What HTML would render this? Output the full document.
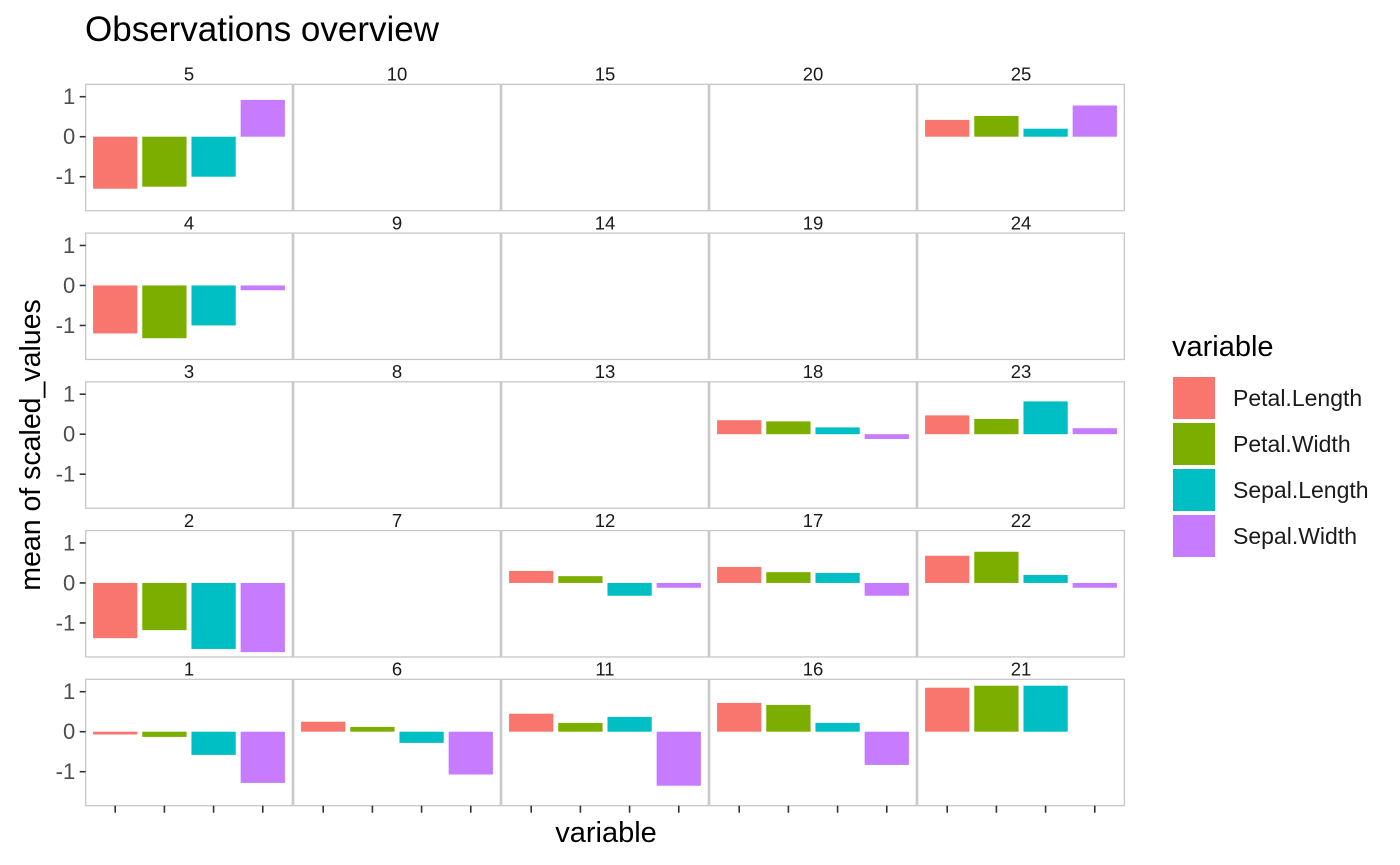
<!DOCTYPE html>
<html><head><meta charset="utf-8"><style>
body{margin:0;background:#fff;}
svg{display:block;font-family:"Liberation Sans",sans-serif;}
</style></head><body>
<svg id="chart" width="1400" height="865" xmlns="http://www.w3.org/2000/svg">
<text x="85" y="41" font-size="35" fill="#000">Observations overview</text>
<text transform="translate(40,445) rotate(-90)" text-anchor="middle" font-size="28.5" fill="#000">mean of scaled_values</text>
<text x="606" y="842" text-anchor="middle" font-size="29" fill="#000">variable</text>
<text x="1172" y="356" font-size="29" fill="#000">variable</text>
<g id="panels"></g>
<g id="legend"></g>
</svg>
<script>
const categories = ["Petal.Length","Petal.Width","Sepal.Length","Sepal.Width"];
const colors = ["#F8766D","#7CAE00","#00BFC4","#C77CFF"];
const facetLabels = [1,2,3,4,5,6,7,8,9,10,11,12,13,14,15,16,17,18,19,20,21,22,23,24,25];
const yTicks = [1,0,-1];
const yTickLabels = ["1","0","-1"];
const facetValues = {
  1:[-0.07,-0.13,-0.58,-1.28],
  2:[-1.38,-1.18,-1.65,-1.73],
  4:[-1.2,-1.32,-1.0,-0.12],
  5:[-1.3,-1.25,-1.0,0.92],
  6:[0.25,0.12,-0.28,-1.07],
  11:[0.45,0.22,0.37,-1.35],
  12:[0.3,0.17,-0.32,-0.12],
  16:[0.72,0.67,0.22,-0.83],
  17:[0.4,0.27,0.25,-0.32],
  18:[0.35,0.32,0.17,-0.12],
  21:[1.1,1.15,1.15,null],
  22:[0.68,0.78,0.2,-0.12],
  23:[0.47,0.38,0.82,0.15],
  25:[0.42,0.52,0.2,0.78]
};
const NS="http://www.w3.org/2000/svg";
const g=document.getElementById('panels');
const X0=85.7, PW=206.6, PITCH=208, Y0=84.3, PH=126.4, RP=148.75;
const yMax=1.31, yMin=-1.85;
function mk(tag,attrs){const e=document.createElementNS(NS,tag);for(const k in attrs)e.setAttribute(k,attrs[k]);return e;}
facetLabels.forEach(lab=>{
  const c=Math.floor((lab-1)/5), r=4-((lab-1)%5);
  const px=X0+c*PITCH, py=Y0+r*RP;
  const yS=v=>py+(yMax-v)/(yMax-yMin)*PH;
  const xS=i=>px+(i+0.6)/4.2*PW;
  const bw=0.9/4.2*PW;
  const strip=mk('text',{x:px+PW/2,y:py-3.7,'text-anchor':'middle','font-size':'18.5',fill:'#1a1a1a'});
  
  
  strip.textContent=lab;g.appendChild(strip);
  const vals=facetValues[lab];
  if(vals){vals.forEach((v,i)=>{
    if(v===null)return;
    const y1=yS(Math.max(v,0)), y2=yS(Math.min(v,0));
    const b=mk('rect',{x:xS(i)-bw/2,y:y1,width:bw,height:Math.max(y2-y1,0.5),fill:colors[i]});
    
    
    g.appendChild(b);
  });}
  const border=mk('rect',{x:px,y:py,width:PW,height:PH,fill:'none',stroke:'#c8c8c8','stroke-width':'1.3'});
  
  
  g.appendChild(border);
  if(c===0){yTicks.forEach((t,k)=>{
    const y=yS(t);
    g.appendChild(mk('line',{x1:px-6,x2:px,y1:y,y2:y,stroke:'#333','stroke-width':'1.6'}));
    const tl=mk('text',{x:px-10.5,y:y+7.5,'text-anchor':'end','font-size':'22',fill:'#4d4d4d'});
    
    
    tl.textContent=yTickLabels[k];g.appendChild(tl);
  });}
  if(r===4){categories.forEach((cat,i)=>{
    g.appendChild(mk('line',{x1:xS(i),x2:xS(i),y1:py+PH,y2:py+PH+7,stroke:'#333','stroke-width':'1.6'}));
  });}
});
const lg=document.getElementById('legend');
categories.forEach((cat,i)=>{
  const y=377+i*46;
  const k=mk('rect',{x:1173,y:y,width:42,height:42,fill:colors[i]});
  
  
  lg.appendChild(k);
  const t=mk('text',{x:1233,y:y+29,'font-size':'23','fill':'#1a1a1a'});
  
  
  t.textContent=cat;lg.appendChild(t);
});
</script>
</body></html>
